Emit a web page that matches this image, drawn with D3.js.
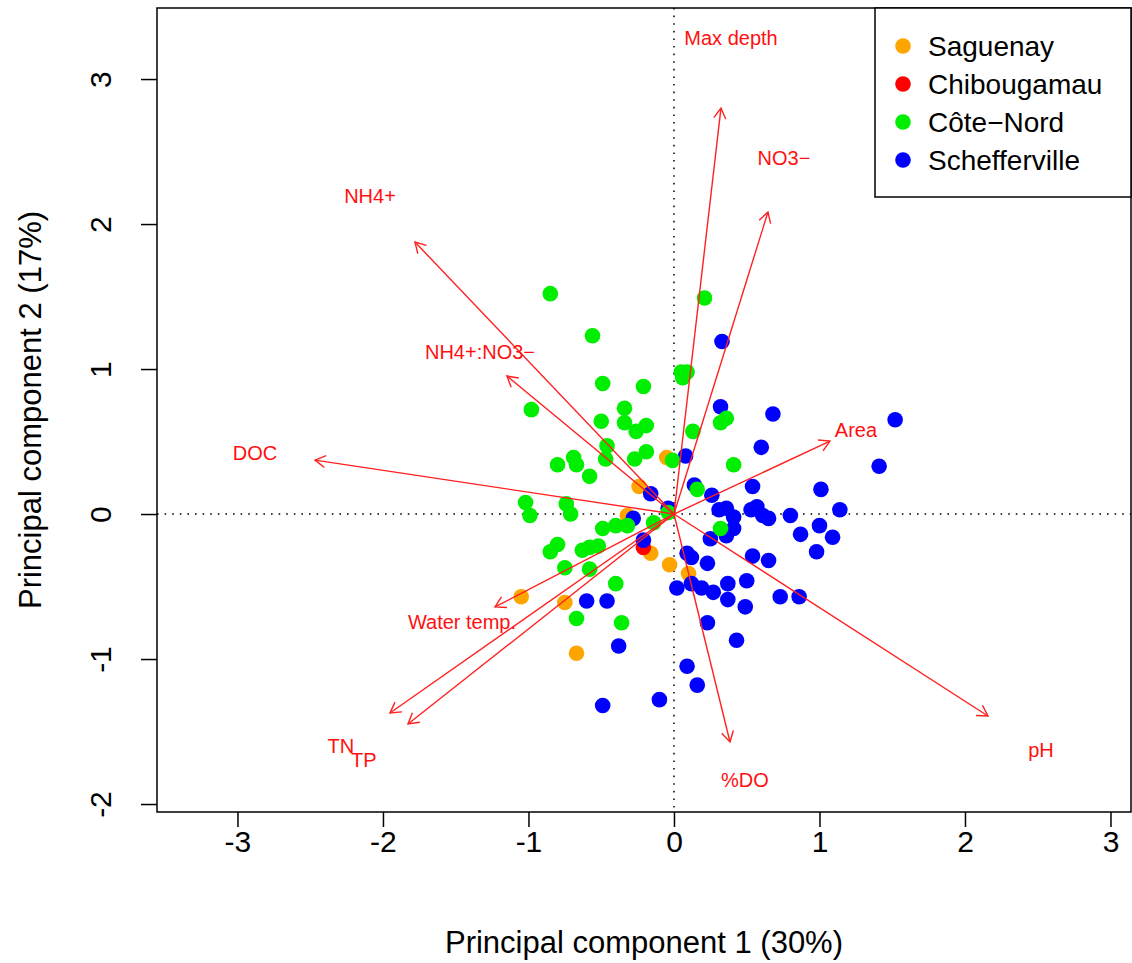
<!DOCTYPE html>
<html>
<head>
<meta charset="utf-8">
<script src="https://cdn.jsdelivr.net/npm/d3@7"></script>
<style>
body { margin: 0; background: #fff; }
text { font-family: "Liberation Sans", Arial, sans-serif; }
</style>
</head>
<body>
<script>
// site scores (PC1, PC2) per region
var saguenay = [[-0.05,0.39],[-0.24,0.19],[-0.32,-0.01],[-0.16,-0.27],[-0.03,-0.35],[0.10,-0.41],[-1.05,-0.57],[-0.75,-0.61],[-0.67,-0.96]];
var chibougamau = [[-0.21,-0.23]];
var schefferville = [[0.33,1.19],[0.32,0.74],[0.68,0.69],[1.52,0.65],[0.60,0.46],[1.41,0.33],[0.08,0.40],[0.54,0.19],[1.01,0.17],
  [0.14,0.20],[0.26,0.13],[-0.16,0.14],[-0.04,0.04],[-0.28,-0.03],[0.31,0.03],[0.36,0.04],[0.41,-0.02],[0.53,0.03],[0.57,0.05],
  [0.61,-0.01],[0.65,-0.03],[0.80,-0.01],[1.14,0.03],[0.41,-0.10],[0.36,-0.15],[0.25,-0.17],[0.87,-0.14],[1.00,-0.08],[1.09,-0.16],
  [0.98,-0.26],[-0.21,-0.18],[0.09,-0.27],[0.12,-0.30],[0.23,-0.34],[0.54,-0.29],[0.65,-0.32],[0.02,-0.51],[0.12,-0.48],[0.19,-0.51],
  [0.27,-0.54],[0.37,-0.48],[0.50,-0.46],[0.37,-0.59],[0.49,-0.64],[0.73,-0.57],[0.86,-0.57],[0.23,-0.75],[0.43,-0.87],[0.09,-1.05],
  [0.16,-1.18],[-0.10,-1.28],[-0.49,-1.32],[-0.60,-0.60],[-0.46,-0.60],[-0.38,-0.91]];
var coteNord = [[-0.85,1.52],[0.21,1.49],[-0.56,1.23],[0.05,0.98],[0.09,0.98],[0.06,0.94],[-0.49,0.90],[-0.21,0.88],[-0.98,0.72],
  [-0.34,0.73],[-0.50,0.64],[-0.34,0.63],[-0.26,0.57],[-0.19,0.61],[0.13,0.57],[0.36,0.66],[0.32,0.63],[-0.46,0.47],[-0.47,0.38],
  [-0.19,0.43],[-0.27,0.38],[-0.69,0.39],[-0.80,0.34],[-0.67,0.34],[-0.58,0.26],[-0.01,0.37],[0.41,0.34],[0.16,0.17],[-1.02,0.08],
  [-0.99,-0.01],[-0.74,0.07],[-0.71,0.00],[-0.04,0.01],[-0.49,-0.10],[-0.40,-0.08],[-0.32,-0.08],[-0.14,-0.06],[0.32,-0.10],
  [-0.85,-0.26],[-0.80,-0.21],[-0.63,-0.25],[-0.58,-0.23],[-0.52,-0.22],[-0.75,-0.37],[-0.58,-0.38],[-0.40,-0.48],[-0.67,-0.72],[-0.36,-0.75]];

var regionNames = ["Saguenay", "Chibougamau", "C\u00f4te\u2212Nord", "Schefferville"];
var regionColors = ["#FFA500", "#FF0000", "#00EE00", "#0000FF"];

// variable loadings (arrow tips) and label positions
var varNames = ["Max depth", "NO3\u2212", "NH4+", "NH4+:NO3\u2212", "DOC", "Area", "Water temp.", "TN", "TP", "%DO", "pH"];
var varTips = [[0.323,2.80],[0.646,2.083],[-1.78,1.876],[-1.148,0.952],[-2.467,0.372],[1.072,0.503],[-1.23,-0.641],[-1.952,-1.372],[-1.828,-1.448],[0.385,-1.572],[2.158,-1.393]];
var varLabels = [[0.392,3.28],[0.756,2.455],[-2.089,2.193],[-1.333,1.117],[-2.88,0.421],[1.251,0.579],[-1.457,-0.745],[-2.289,-1.60],[-2.131,-1.697],[0.488,-1.834],[2.522,-1.628]];

var xTicks = [-3, -2, -1, 0, 1, 2, 3];
var yTicks = [-2, -1, 0, 1, 2, 3];

var width = 1132;
var height = 963;
var box = {left: 157, right: 1131, top: 8, bottom: 812};

var svg = d3.select("body").append("svg")
    .attr("width", width)
    .attr("height", height);

var x = d3.scaleLinear().domain([-3.553, 3.141]).range([box.left, box.right]);
var y = d3.scaleLinear().domain([-2.055, 3.49]).range([box.bottom, box.top]);

// dotted zero lines
svg.append("line")
    .attr("x1", box.left).attr("x2", box.right)
    .attr("y1", y(0)).attr("y2", y(0))
    .attr("stroke", "#000").attr("stroke-width", 1.5)
    .attr("stroke-dasharray", "1.6,6");
svg.append("line")
    .attr("x1", x(0)).attr("x2", x(0))
    .attr("y1", box.top).attr("y2", box.bottom)
    .attr("stroke", "#000").attr("stroke-width", 1.5)
    .attr("stroke-dasharray", "1.6,6");

// points, drawn group by group
var groups = [saguenay, chibougamau, schefferville, coteNord];
var groupColors = [regionColors[0], regionColors[1], regionColors[3], regionColors[2]];
groups.forEach(function(g, gi) {
    svg.append("g").selectAll("circle")
        .data(g)
        .enter()
        .append("circle")
        .attr("cx", function(d) { return x(d[0]); })
        .attr("cy", function(d) { return y(d[1]); })
        .attr("r", 7.8)
        .attr("fill", groupColors[gi]);
});

// arrows
var arrowG = svg.append("g")
    .attr("stroke", "#FF2020")
    .attr("stroke-width", 1.4)
    .attr("fill", "none");
varTips.forEach(function(t) {
    var x0 = x(0), y0 = y(0), x1 = x(t[0]), y1 = y(t[1]);
    arrowG.append("line")
        .attr("x1", x0).attr("y1", y0)
        .attr("x2", x1).attr("y2", y1);
    var ang = Math.atan2(y1 - y0, x1 - x0);
    var len = 12, spread = Math.PI / 6;
    var pts = [
        [x1 - len * Math.cos(ang - spread), y1 - len * Math.sin(ang - spread)],
        [x1, y1],
        [x1 - len * Math.cos(ang + spread), y1 - len * Math.sin(ang + spread)]
    ];
    arrowG.append("path").attr("d", d3.line()(pts));
});

svg.append("g").selectAll("text")
    .data(varNames)
    .enter()
    .append("text")
    .attr("x", function(d, i) { return x(varLabels[i][0]); })
    .attr("y", function(d, i) { return y(varLabels[i][1]); })
    .attr("dy", "0.35em")
    .attr("text-anchor", "middle")
    .attr("font-size", "20px")
    .attr("fill", "#FF1010")
    .text(function(d) { return d; });

// axes
var tickFmt = function(d) { return d < 0 ? "-" + Math.abs(d) : String(d); };
var xAxis = d3.axisBottom(x).tickValues(xTicks).tickSize(15).tickPadding(4).tickFormat(tickFmt);
var xAxisG = svg.append("g")
    .attr("transform", "translate(0," + box.bottom + ")")
    .call(xAxis);
var yAxis = d3.axisLeft(y).tickValues(yTicks).tickSize(16).tickFormat(tickFmt);
var yAxisG = svg.append("g")
    .attr("transform", "translate(" + box.left + ",0)")
    .call(yAxis);
[xAxisG, yAxisG].forEach(function(g) {
    g.select(".domain").remove();
    g.selectAll("line").attr("stroke", "#000").attr("stroke-width", 1.5);
    g.selectAll("text").attr("font-size", "30px").attr("fill", "#000")
        .attr("font-family", "'Liberation Sans', Arial, sans-serif");
});
yAxisG.selectAll("text")
    .attr("x", 0)
    .attr("dy", "0.35em")
    .attr("text-anchor", "middle")
    .attr("transform", "translate(-57,0) rotate(-90)");

// plot box
svg.append("rect")
    .attr("x", box.left).attr("y", box.top)
    .attr("width", box.right - box.left).attr("height", box.bottom - box.top)
    .attr("fill", "none").attr("stroke", "#000").attr("stroke-width", 1.5);

// axis titles
svg.append("text")
    .attr("x", (box.left + box.right) / 2)
    .attr("y", 942)
    .attr("dy", "0.35em")
    .attr("text-anchor", "middle")
    .attr("font-size", "31px")
    .text("Principal component 1 (30%)");
svg.append("text")
    .attr("transform", "translate(30," + ((box.top + box.bottom) / 2) + ") rotate(-90)")
    .attr("dy", "0.35em")
    .attr("text-anchor", "middle")
    .attr("font-size", "31px")
    .text("Principal component 2 (17%)");

// legend
var legend = svg.append("g");
legend.append("rect")
    .attr("x", 875).attr("y", box.top)
    .attr("width", box.right - 875).attr("height", 189)
    .attr("fill", "#fff").attr("stroke", "#000").attr("stroke-width", 1.5);
var items = legend.selectAll("g.item")
    .data(regionNames)
    .enter()
    .append("g")
    .attr("class", "item")
    .attr("transform", function(d, i) { return "translate(903," + (46 + i * 38) + ")"; });
items.append("circle")
    .attr("r", 7.8)
    .attr("fill", function(d, i) { return regionColors[i]; });
items.append("text")
    .attr("x", 25)
    .attr("dy", "0.35em")
    .attr("font-size", "28px")
    .text(function(d) { return d; });
</script>
</body>
</html>
